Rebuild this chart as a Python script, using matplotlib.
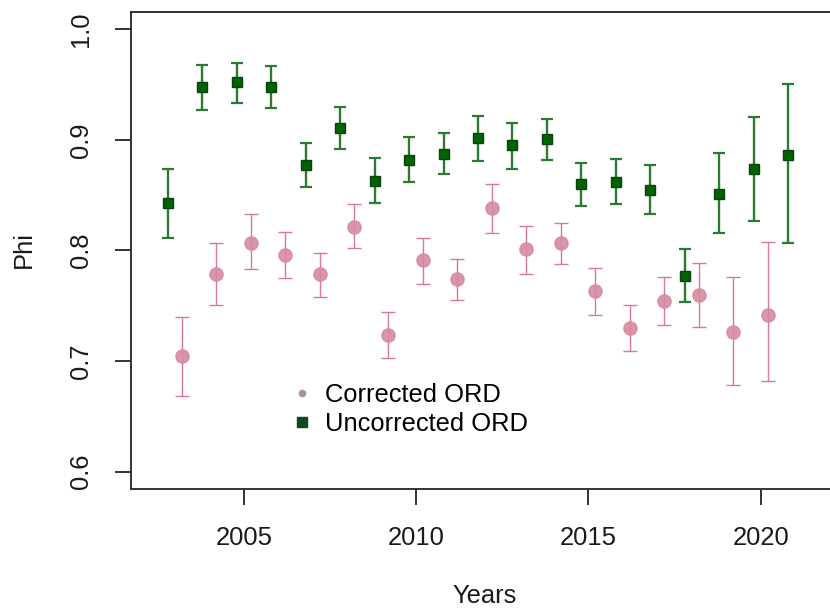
import matplotlib
matplotlib.use("Agg")
import matplotlib.pyplot as plt
from matplotlib.lines import Line2D
import numpy as np

# Annual survival estimates (Phi) with confidence limits
years_unc = list(range(2003, 2022))
phi_unc = [0.843, 0.948, 0.952, 0.948, 0.877, 0.911, 0.863, 0.882, 0.887, 0.902,
           0.895, 0.901, 0.860, 0.862, 0.855, 0.777, 0.851, 0.874, 0.886]
lo_unc = [0.811, 0.927, 0.933, 0.929, 0.857, 0.892, 0.843, 0.862, 0.869, 0.881,
          0.874, 0.882, 0.840, 0.842, 0.833, 0.753, 0.816, 0.827, 0.807]
hi_unc = [0.874, 0.968, 0.970, 0.967, 0.897, 0.930, 0.884, 0.903, 0.906, 0.922,
          0.915, 0.919, 0.879, 0.883, 0.877, 0.801, 0.888, 0.921, 0.951]

years_cor = list(range(2003, 2021))
phi_cor = [0.705, 0.779, 0.807, 0.796, 0.779, 0.821, 0.724, 0.791, 0.774, 0.838,
           0.801, 0.807, 0.763, 0.730, 0.754, 0.760, 0.726, 0.742]
lo_cor = [0.668, 0.751, 0.783, 0.775, 0.758, 0.802, 0.703, 0.770, 0.755, 0.816,
          0.779, 0.788, 0.742, 0.709, 0.733, 0.731, 0.678, 0.682]
hi_cor = [0.740, 0.807, 0.833, 0.817, 0.798, 0.842, 0.744, 0.811, 0.792, 0.860,
          0.822, 0.825, 0.784, 0.751, 0.776, 0.789, 0.776, 0.808]

x_ticks = [2005, 2010, 2015, 2020]
y_ticks = [0.6, 0.7, 0.8, 0.9, 1.0]
legend_labels = ["Corrected ORD", "Uncorrected ORD"]

plt.rcParams["font.family"] = ["Liberation Sans", "DejaVu Sans"]
FS = 18.4

W, H = 830, 609
fig = plt.figure(figsize=(W / 100, H / 100), dpi=100)
ax = fig.add_axes([131 / W, 1 - 489 / H, (833 - 131) / W, (489 - 12) / H])

# dodge the two series around each year
xu = np.array(years_unc) - 0.2
xc = np.array(years_cor) + 0.2

pu = np.array(phi_unc)
pc = np.array(phi_cor)

ec = ax.errorbar(xc, pc, yerr=[pc - np.array(lo_cor), np.array(hi_cor) - pc],
                 fmt="none", ecolor="#d57a96", elinewidth=1.0, capsize=5, capthick=1.0)
for c in ec[1]:
    c.set_color("#a06677")
ax.plot(xc, pc, "o", ms=9.5, color="#d68aa0", mec="#d68aa0", alpha=0.9, zorder=3)

eu = ax.errorbar(xu, pu, yerr=[pu - np.array(lo_unc), np.array(hi_unc) - pu],
                 fmt="none", ecolor="#2c7a31", elinewidth=1.7, capsize=4.3, capthick=1.6)
for c in eu[1]:
    c.set_color("#28452b")
ax.plot(xu, pu, "s", ms=7.8, color="#006400", mec="#0d3f14", mew=1.0, zorder=4)

ax.set_xlim(2001.73, 2022.10)
ax.set_ylim(0.5843, 1.0157)
ax.set_xticks(x_ticks)
ax.set_xticklabels([str(t) for t in x_ticks])
ax.set_yticks(y_ticks)
ax.set_yticklabels([f"{t:.1f}" for t in y_ticks])

for s in ax.spines.values():
    s.set_linewidth(1.4)
    s.set_color("#333333")
ax.tick_params(axis="both", length=11.5, width=1.4, color="#333333",
               labelsize=FS, labelcolor="#1a1a1a")
ax.tick_params(axis="x", pad=15)
ax.tick_params(axis="y", pad=16)
for lab in ax.get_yticklabels():
    lab.set_rotation(90)
    lab.set_va("center")

fig.text(24 / W, 1 - 250 / H, "Phi", rotation=90, ha="center", va="center",
         fontsize=FS, color="#1a1a1a")
fig.text(485 / W, 1 - 603 / H, "Years", ha="center", va="baseline",
         fontsize=FS, color="#1a1a1a")

handles = [
    Line2D([], [], ls="none", marker="o", ms=4.5, color="#a8929f"),
    Line2D([], [], ls="none", marker="s", ms=7, color="#0f4a1e"),
]
ax.legend(handles, legend_labels, loc="center left",
          bbox_to_anchor=(288.9 / W, 1 - 409.5 / H), bbox_transform=fig.transFigure,
          frameon=False, fontsize=FS, handlelength=1.0, handletextpad=0.41,
          labelspacing=0.2, borderpad=0, borderaxespad=0)

fig.savefig("out.png", dpi=100, facecolor="white")
